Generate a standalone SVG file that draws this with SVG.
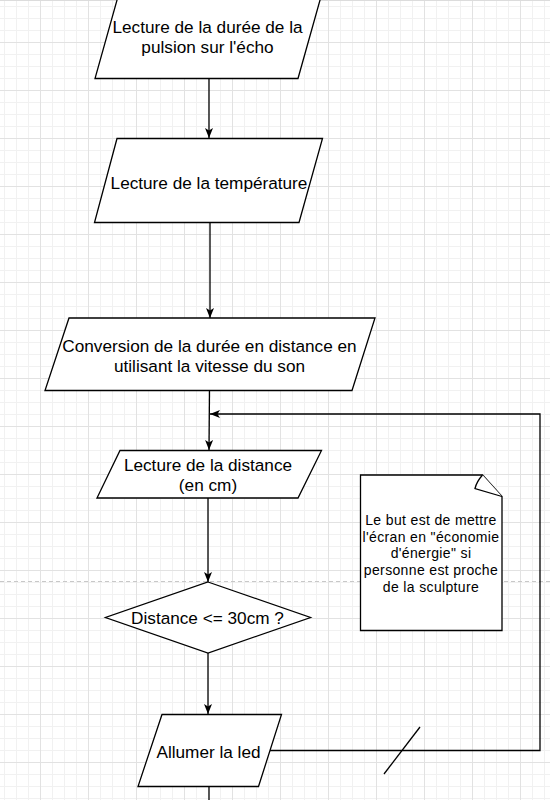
<svg xmlns="http://www.w3.org/2000/svg" width="550" height="800" viewBox="0 0 550 800">
<style>
.shape{fill:#fff;stroke:#000;stroke-width:1.3}
.lbl{font-family:"Liberation Sans",Arial,sans-serif;font-size:17.2px;fill:#000;text-anchor:middle}
.note{font-family:"Liberation Sans",Arial,sans-serif;font-size:14px;fill:#000;text-anchor:middle;letter-spacing:0.35px}
.conn{fill:none;stroke:#000;stroke-width:1.3}
</style>
<defs>
<pattern id="grid" x="40" y="42" width="48" height="48" patternUnits="userSpaceOnUse">
<path d="M12.5,0V48M24.5,0V48M36.5,0V48M0,12.5H48M0,24.5H48M0,36.5H48" stroke="#f1f1f1" stroke-width="1" fill="none"/>
<path d="M0.5,0V48M0,0.5H48" stroke="#e2e2e2" stroke-width="1" fill="none"/>
</pattern>
<marker id="arr" viewBox="0 0 10 8" refX="10" refY="4" markerWidth="10" markerHeight="8.5" markerUnits="userSpaceOnUse" orient="auto">
<path d="M0,0 L10,4 L0,8 L2.5,4 Z" fill="#000"/>
</marker>
</defs>
<rect width="550" height="800" fill="#fff"/>
<rect width="550" height="800" fill="url(#grid)"/>
<line x1="0" y1="0.5" x2="550" y2="0.5" stroke="#dcdcdc" stroke-width="1"/>
<line x1="0" y1="581.5" x2="550" y2="581.5" stroke="#c8c8c8" stroke-width="1" stroke-dasharray="4,3"/>

<g id="connectors">
<line class="conn" x1="209" y1="79" x2="209" y2="138" marker-end="url(#arr)"/>
<line class="conn" x1="210" y1="223" x2="210" y2="318" marker-end="url(#arr)"/>
<line class="conn" x1="209.5" y1="391" x2="209" y2="450" marker-end="url(#arr)"/>
<line class="conn" x1="208" y1="498" x2="208" y2="582" marker-end="url(#arr)"/>
<line class="conn" x1="208" y1="653" x2="208" y2="714" marker-end="url(#arr)"/>
<line class="conn" x1="209" y1="787" x2="209" y2="800"/>
<polyline class="conn" points="270,750.5 540,750.5 540,414 210,414" marker-end="url(#arr)"/>
<line class="conn" x1="384" y1="774" x2="420" y2="727"/>
</g>

<g id="n1">
<polygon class="shape" points="119,-7 322,-7 298,78.5 95,78.5"/>
<text class="lbl" x="207.5" y="33">Lecture de la durée de la</text>
<text class="lbl" x="207.5" y="53">pulsion sur l'écho</text>
</g>

<g id="n2">
<polygon class="shape" points="117,138.5 322.5,138.5 299,222.5 94.5,222.5"/>
<text class="lbl" x="209" y="189">Lecture de la température</text>
</g>

<g id="n3">
<polygon class="shape" points="69,318 375,318 352,390.5 45,390.5"/>
<text class="lbl" x="209.5" y="351.5">Conversion de la durée en distance en</text>
<text class="lbl" x="209.5" y="371.5">utilisant la vitesse du son</text>
</g>

<g id="n4">
<polygon class="shape" points="120,450.5 321.5,450.5 298,498 97,498"/>
<text class="lbl" x="208" y="471">Lecture de la distance</text>
<text class="lbl" x="208" y="491">(en cm)</text>
</g>

<g id="n5">
<polygon class="shape" points="208,582 310.5,617.5 208,653 105.5,617.5"/>
<text class="lbl" x="207.5" y="624">Distance &lt;= 30cm ?</text>
</g>

<g id="n6">
<polygon class="shape" points="162,714.5 281.5,714.5 258.5,786.5 138,786.5"/>
<text class="lbl" x="208.5" y="757.5">Allumer la led</text>
</g>

<g id="note">
<path class="shape" d="M360.5,475 H482.5 L502,496.5 V630.5 H360.5 Z"/>
<path class="shape" d="M482.5,475 C479,479 476,484 475,488.5 L502,496.5"/>
<text class="note" x="431" y="525">Le but est de mettre</text>
<text class="note" x="431" y="541.7">l'écran en "économie</text>
<text class="note" x="431" y="558.4">d'énergie" si</text>
<text class="note" x="431" y="575.1">personne est proche</text>
<text class="note" x="431" y="591.8">de la sculpture</text>
</g>
</svg>
